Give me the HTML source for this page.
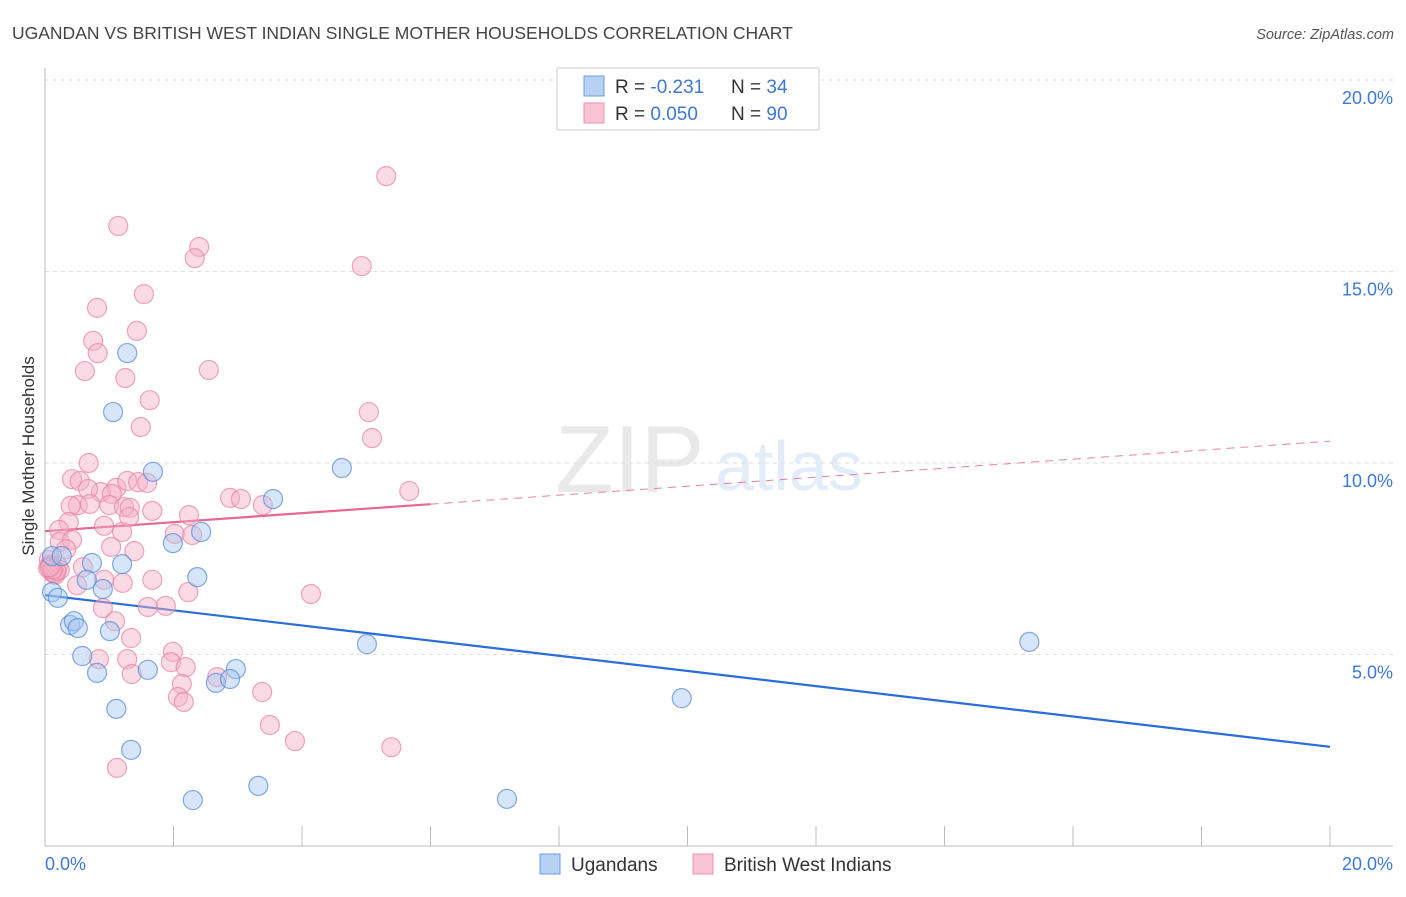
<!DOCTYPE html>
<html><head><meta charset="utf-8"><style>
body{margin:0;background:#fff;font-family:"Liberation Sans",sans-serif;}
svg text{font-family:"Liberation Sans",sans-serif;}
</style></head><body>
<svg id="chart" width="1406" height="892" xmlns="http://www.w3.org/2000/svg">
<text x="12" y="39" font-size="17.5" fill="#444">UGANDAN VS BRITISH WEST INDIAN SINGLE MOTHER HOUSEHOLDS CORRELATION CHART</text>
<text x="1394" y="39" font-size="14.5" fill="#555" font-style="italic" text-anchor="end">Source: ZipAtlas.com</text>
<g opacity="0.18">
<text x="555" y="492" font-size="96" font-family="Liberation Serif" fill="#888">ZIP</text>
<text x="715" y="490" font-size="70" fill="#6a9be0">atlas</text>
</g>
<g id="grid"></g>
<g id="axes"></g>
<g id="lines"></g>
<g id="points"></g>
<text transform="translate(34,456) rotate(-90)" font-size="17" fill="#333" text-anchor="middle">Single Mother Households</text>
<g>
<rect x="557" y="68" width="262" height="62" fill="#fff" stroke="#ccc"/>
<rect x="584" y="76" width="20" height="20" fill="#b7d1f4" stroke="#6d9be0"/>
<rect x="584" y="103" width="20" height="20" fill="#f8c4d3" stroke="#ec93b0"/>
<text x="615" y="93" font-size="19" fill="#333">R = <tspan fill="#3d78d8">-0.231</tspan><tspan x="731">N = </tspan><tspan fill="#3d78d8">34</tspan></text>
<text x="615" y="120" font-size="19" fill="#333">R = <tspan fill="#3d78d8">0.050</tspan><tspan x="731">N = </tspan><tspan fill="#3d78d8">90</tspan></text>
</g>
<g>
<rect x="540" y="854" width="20" height="20" fill="#b7d1f4" stroke="#6d9be0"/>
<text x="571" y="871" font-size="19" fill="#333">Ugandans</text>
<rect x="693" y="854" width="20" height="20" fill="#f8c4d3" stroke="#ec93b0"/>
<text x="724" y="871" font-size="19" fill="#333">British West Indians</text>
</g>
</svg>
<script>
const xTicks=[0,2,4,6,8,10,12,14,16,18,20];
const yTicks=[5,10,15,20];
const xLabels=["0.0%","20.0%"];
const blueX=[1.28,1.06,1.68,4.62,3.55,2.43,1.99,0.11,0.26,0.73,1.20,2.37,0.65,0.11,0.20,0.90,0.39,0.45,0.51,1.01,0.58,0.81,1.60,2.97,2.66,2.88,5.01,15.32,9.91,1.11,1.34,2.30,3.32,7.19];
const blueY=[12.87,11.33,9.77,9.87,9.06,8.20,7.91,7.57,7.57,7.39,7.36,7.02,6.95,6.63,6.48,6.71,5.77,5.87,5.69,5.61,4.96,4.52,4.60,4.62,4.26,4.36,5.27,5.33,3.86,3.58,2.51,1.20,1.57,1.23];
const pinkX=[1.14,2.40,2.33,5.31,4.93,1.54,0.81,1.43,0.75,0.82,0.62,2.55,1.25,1.63,5.04,1.49,5.09,0.68,0.42,0.54,1.11,1.28,1.45,1.59,0.87,0.67,1.04,0.51,0.70,0.40,1.00,1.23,1.32,1.67,2.88,3.05,3.39,5.67,0.37,0.22,0.92,1.20,2.24,2.02,1.31,2.29,0.23,0.42,0.33,1.03,1.39,0.06,0.20,0.59,0.92,1.67,0.50,1.21,4.14,2.23,1.88,1.60,0.90,1.09,1.34,1.99,1.96,2.19,0.84,1.28,2.68,3.38,2.13,1.35,2.07,2.16,3.50,3.89,5.39,1.12,0.16,0.08,0.23,0.11,0.05,0.15,0.10,0.18,0.12,0.07];
const pinkY=[16.19,15.64,15.35,17.49,15.14,14.41,14.05,13.45,13.19,12.87,12.40,12.43,12.22,11.64,11.33,10.94,10.65,10.00,9.58,9.53,9.35,9.53,9.50,9.48,9.24,9.32,9.19,8.90,8.93,8.88,8.90,8.85,8.83,8.75,9.09,9.06,8.90,9.27,8.46,8.25,8.36,8.20,8.64,8.15,8.59,8.12,7.94,7.99,7.75,7.81,7.70,7.47,7.31,7.28,6.95,6.95,6.81,6.87,6.58,6.63,6.27,6.24,6.21,5.87,5.43,5.07,4.80,4.67,4.88,4.88,4.41,4.02,4.23,4.49,3.89,3.76,3.16,2.74,2.58,2.04,7.08,7.34,7.21,7.15,7.25,7.12,7.30,7.18,7.22,7.28];
const blueTrend=[6.55,2.59];
const pinkTrend=[8.22,10.57];
const pinkSolidEnd=6;
const NS="http://www.w3.org/2000/svg";
const sx=v=>45+v*64.25, sy=v=>846-v*38.3;
function mk(tag,attrs,parent){const e=document.createElementNS(NS,tag);for(const k in attrs)e.setAttribute(k,attrs[k]);parent.appendChild(e);return e;}
const grid=document.getElementById('grid'),axes=document.getElementById('axes'),lines=document.getElementById('lines'),pts=document.getElementById('points');
yTicks.forEach(t=>{
 const l=mk('line',{x1:45,x2:1393,y1:sy(t),y2:sy(t),stroke:'#ddd','stroke-dasharray':'4,4'},grid);
 
 
 const tx=mk('text',{x:1393,y:sy(t)+24,'font-size':18,fill:'#3d78d8','text-anchor':'end'},axes);
 tx.textContent=t.toFixed(1)+'%';
 
 
});
const ax=mk('line',{x1:45,x2:45,y1:68,y2:846,stroke:'#bbb'},axes);


const bx=mk('line',{x1:45,x2:1393,y1:846,y2:846,stroke:'#bbb'},axes);


xTicks.forEach(t=>{
 const l=mk('line',{x1:sx(t),x2:sx(t),y1:826,y2:846,stroke:'#bbb'},axes);
 
 
});
[[0,xLabels[0],'start',45],[20,xLabels[1],'end',1393]].forEach(a=>{
 const tx=mk('text',{x:a[3],y:870,'font-size':18,fill:'#3d78d8','text-anchor':a[2]},axes);
 tx.textContent=a[1];
 
 
});
function draw(xs,ys,fill,stroke,name){xs.forEach((x,i)=>{
 const c=mk('circle',{cx:sx(x),cy:sy(ys[i]),r:9.5,fill:fill,'fill-opacity':0.45,stroke:stroke,'stroke-opacity':0.7,'stroke-width':1.2},pts);
 
 
});}
draw(pinkX,pinkY,'#f4b0c6','#e8809f','point-british-west-indian');
draw(blueX,blueY,'#a6c6f0','#4f86d8','point-ugandan');
const bl=mk('line',{x1:sx(0),y1:sy(blueTrend[0]),x2:sx(20),y2:sy(blueTrend[1]),stroke:'#2a6dd6','stroke-width':2.2},lines);


const pAt=x=>pinkTrend[0]+(pinkTrend[1]-pinkTrend[0])*x/20;
const pl=mk('line',{x1:sx(0),y1:sy(pAt(0)),x2:sx(pinkSolidEnd),y2:sy(pAt(pinkSolidEnd)),stroke:'#e8668f','stroke-width':2.2},lines);


const pd=mk('line',{x1:sx(pinkSolidEnd),y1:sy(pAt(pinkSolidEnd)),x2:sx(20),y2:sy(pAt(20)),stroke:'#e8809f','stroke-width':1,'stroke-dasharray':'8,6'},lines);


</script>
</body></html>
